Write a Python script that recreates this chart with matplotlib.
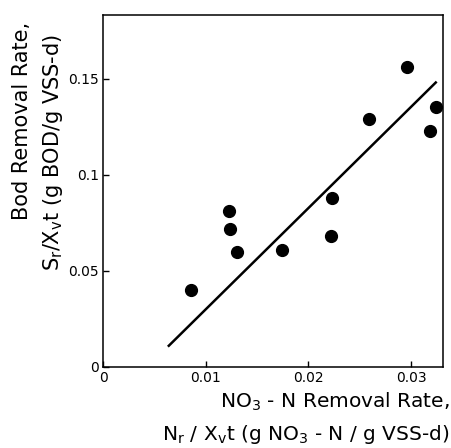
import matplotlib
matplotlib.use("Agg")
import matplotlib.pyplot as plt

# nitrate removal rate vs BOD removal rate (g / g VSS-d)
no3_rate = [0.0086, 0.0123, 0.0124, 0.0130, 0.0174, 0.0223, 0.0222, 0.0259, 0.0296, 0.0318, 0.0324]
bod_rate = [0.040, 0.081, 0.072, 0.060, 0.061, 0.088, 0.068, 0.129, 0.156, 0.123, 0.135]

# fitted line end points
fit_x = [0.0064, 0.0324]
fit_y = [0.011, 0.148]

x_ticks = [0, 0.01, 0.02, 0.03]
x_labels = ["0", "0.01", "0.02", "0.03"]
y_ticks = [0, 0.05, 0.1, 0.15]
y_labels = ["0", "0.05", "0.1", "0.15"]

plt.rcParams["font.family"] = ["DejaVu Sans"]
plt.rcParams["mathtext.default"] = "regular"

fig = plt.figure(figsize=(4.52, 4.48), dpi=100)
ax = fig.add_axes([0.228, 0.181, 0.752, 0.785])

ax.plot(fit_x, fit_y, color="black", linewidth=1.8)
ax.plot(no3_rate, bod_rate, "o", color="black", markersize=8.5, clip_on=False)

ax.set_xlim(0, 0.0331)
ax.set_ylim(0, 0.183)
ax.set_xticks(x_ticks)
ax.set_xticklabels(x_labels)
ax.set_yticks(y_ticks)
ax.set_yticklabels(y_labels)
ax.tick_params(direction="in", length=4, width=1, labelsize=10, pad=3)
for s in ax.spines.values():
    s.set_linewidth(1.1)

# axis titles, two lines each
fig.text(0.995, 0.104, r"NO$_3$ - N Removal Rate,", ha="right", va="center", fontsize=14.5)
fig.text(0.995, 0.030, r"N$_r$ / X$_v$t (g NO$_3$ - N / g VSS-d)", ha="right", va="center", fontsize=14.5)
fig.text(0.048, 0.73, "Bod Removal Rate,", rotation=90, ha="center", va="center", fontsize=15)
fig.text(0.118, 0.66, r"S$_r$/X$_v$t (g BOD/g VSS-d)", rotation=90, ha="center", va="center", fontsize=15)

fig.savefig("out.png", dpi=100)
